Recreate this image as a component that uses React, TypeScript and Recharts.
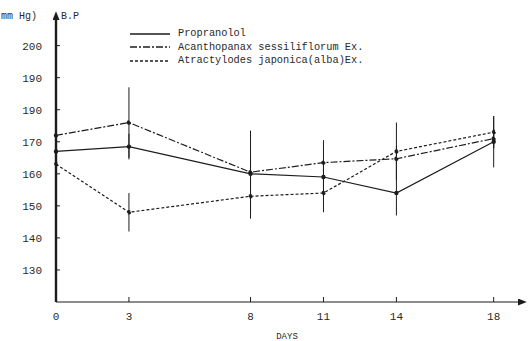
import { CartesianGrid, ErrorBar, Legend, Line, LineChart, XAxis, YAxis } from "recharts";

const days = [0, 3, 8, 11, 14, 18];
const propranolol = [167, 168.5, 160, 159, 154, 170];
const acanthopanax = [172, 176, 160.5, 163.5, 164.7, 171];
const atractylodes = [163, 148, 153, 154, 167, 173];
const propranololErr = [0, 4, 5, 5, 7, 8];
const acanthopanaxErr = [0, 11, 13, 7, 4, 3];
const atractylodesErr = [0, 6, 7, 6, 9, 5];

const xTicks = [0, 3, 8, 11, 14, 18];
const yTicks = [130, 140, 150, 160, 170, 180, 190, 200];
// as printed in the source figure (the 180 tick reads "190")
const yTickLabels = ["130", "140", "150", "160", "170", "190", "190", "200"];

const seriesNames = [
  "Propranolol",
  "Acanthopanax sessiliflorum Ex.",
  "Atractylodes japonica(alba)Ex.",
];

const data = days.map((d, i) => ({
  day: d,
  prop: propranolol[i],
  acan: acanthopanax[i],
  atra: atractylodes[i],
  propErr: propranololErr[i],
  acanErr: acanthopanaxErr[i],
  atraErr: atractylodesErr[i],
}));

const ink = "#1c1c1c";
const textInk = "#2a2a2a";
const font = "'Liberation Mono', 'DejaVu Sans Mono', monospace";
const dashes = ["", "7 2 2 2", "3 2"];

function LegendBox() {
  return (
    <div style={{ fontFamily: font, fontSize: 10.3, color: textInk, lineHeight: "13px" }}>
      {seriesNames.map((name, i) => (
        <div key={name} style={{ display: "flex", alignItems: "center", height: 13.5 }}>
          <svg width={42} height={6} style={{ marginRight: 6 }}>
            <line x1={0} y1={3} x2={40} y2={3} stroke={ink} strokeWidth={1.3} strokeDasharray={dashes[i]} />
          </svg>
          <span>{name}</span>
        </div>
      ))}
    </div>
  );
}

function YAxisTitle() {
  return (
    <g fontFamily={font} fontSize={10} fill={textInk}>
      <text x={1} y={19}>mm Hg)</text>
      <text x={61} y={19}>B.P</text>
    </g>
  );
}

function YTick(props: any) {
  const { x, y, payload } = props;
  const i = yTicks.indexOf(Number(payload.value));
  return (
    <text x={x} y={y} dy="0.355em" textAnchor="end" fill={textInk} fontSize={11} fontFamily={font}>
      {i >= 0 ? yTickLabels[i] : String(payload.value)}
    </text>
  );
}

export default function App() {
  return (
    <div style={{ position: "absolute", left: 0, top: 0, background: "#fff" }}>
      <LineChart width={530} height={341} data={data} margin={{ top: 20, right: 12, left: 16, bottom: 0 }}>
        <defs>
          <marker
            id="arrow"
            viewBox="0 0 10 8"
            refX={0}
            refY={4}
            markerWidth={9}
            markerHeight={7}
            markerUnits="userSpaceOnUse"
            orient="auto-start-reverse"
          >
            <path d="M0,0 L10,4 L0,8 z" fill={ink} />
          </marker>
        </defs>
        <CartesianGrid stroke="none" />
        <XAxis
          dataKey="day"
          type="number"
          domain={[0, 19]}
          ticks={xTicks}
          height={39}
          axisLine={{ stroke: ink, strokeWidth: 1.2, markerEnd: "url(#arrow)" }}
          tickLine={{ stroke: ink, strokeWidth: 1 }}
          tickSize={-5}
          tickMargin={15}
          tick={{ fill: textInk, fontSize: 11, fontFamily: font }}
          label={{ value: "DAYS", position: "insideBottom", offset: 2, fill: textInk, fontSize: 9, fontFamily: font }}
        />
        <YAxis
          type="number"
          domain={[120, 208]}
          ticks={yTicks}
          width={40}
          allowDataOverflow
          axisLine={{ stroke: ink, strokeWidth: 2.4, markerStart: "url(#arrow)" }}
          tickLine={{ stroke: ink, strokeWidth: 1 }}
          tickSize={-4}
          tickMargin={18}
          tick={<YTick />}
          label={{ content: () => <YAxisTitle /> }}
        />
        <Legend
          layout="vertical"
          align="center"
          verticalAlign="middle"
          content={() => <LegendBox />}
          wrapperStyle={{ top: 27, left: 130, width: "auto" }}
        />
        <Line
          dataKey="prop"
          name={seriesNames[0]}
          stroke={ink}
          strokeWidth={1.2}
          dot={{ r: 1.6, fill: ink, stroke: ink }}
          isAnimationActive={false}
        >
          <ErrorBar dataKey="propErr" width={0} stroke={ink} strokeWidth={1} direction="y" />
        </Line>
        <Line
          dataKey="acan"
          name={seriesNames[1]}
          stroke={ink}
          strokeWidth={1.2}
          strokeDasharray={dashes[1]}
          dot={{ r: 1.6, fill: ink, stroke: ink }}
          isAnimationActive={false}
        >
          <ErrorBar dataKey="acanErr" width={0} stroke={ink} strokeWidth={1} direction="y" />
        </Line>
        <Line
          dataKey="atra"
          name={seriesNames[2]}
          stroke={ink}
          strokeWidth={1.2}
          strokeDasharray={dashes[2]}
          dot={{ r: 1.6, fill: ink, stroke: ink }}
          isAnimationActive={false}
        >
          <ErrorBar dataKey="atraErr" width={0} stroke={ink} strokeWidth={1} direction="y" />
        </Line>
      </LineChart>
    </div>
  );
}
